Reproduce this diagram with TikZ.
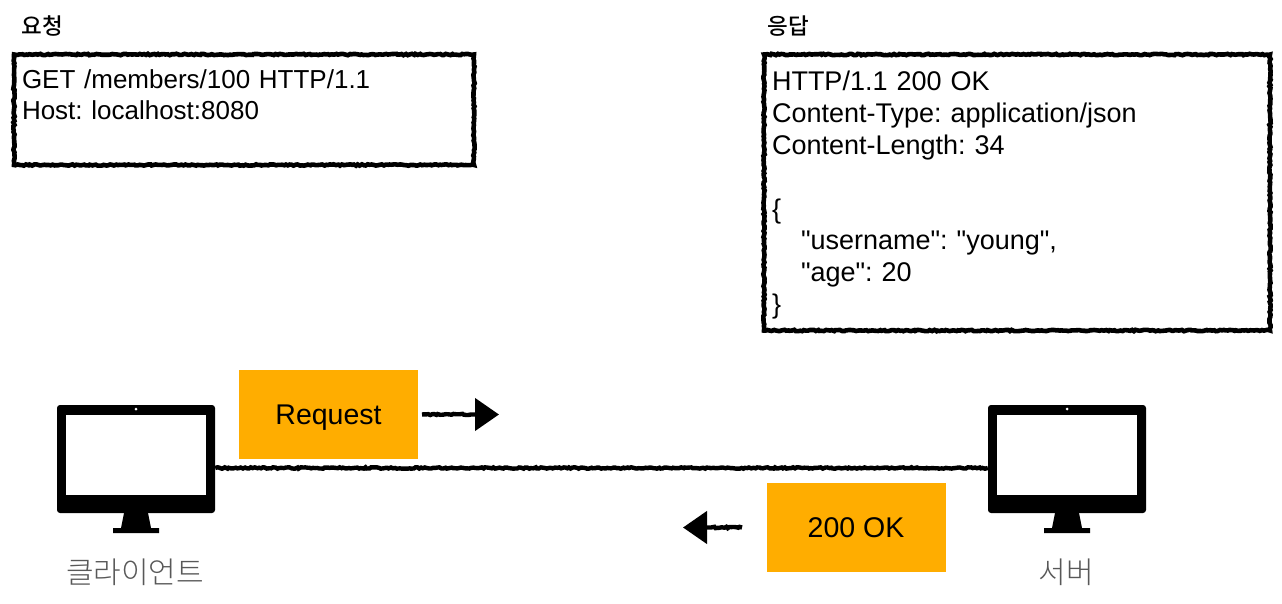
\documentclass[tikz,border=0pt]{standalone}
\usepackage{fontspec}
\setmainfont{Liberation Sans}
\newfontfamily\msgfont{Liberation Sans}
\newfontfamily\krfont{Noto Sans CJK KR Light}
\newfontfamily\krtitle{Noto Sans CJK KR Medium}
\usetikzlibrary{positioning,arrows.meta,decorations.pathmorphing}
\definecolor{boxorange}{HTML}{FFAD00}
\definecolor{labelgray}{HTML}{585858}
\tikzset{
  pics/monitor/.style={code={
    \node[pc body] (-body) at (0,0) {};
    \node[pc screen] (-screen) at (0,-4) {};
    \node[pc dot] (-dot) at (0,-50) {};
    \fill (-12,54) -- (12,54) -- (15,69) -- (23,69) -- (23,74) -- (-23,74) -- (-23,69) -- (-15,69) -- cycle;
  }}
}
\begin{document}
\begin{tikzpicture}[x=1pt,y=-1pt,
    rough/.style={decorate,decoration={random steps,segment length=2pt,amplitude=0.7pt}},
    msg box/.style={rough,draw,line width=4.6pt,outer sep=0pt,anchor=north west,align=left,inner xsep=8pt,inner ysep=0pt},
    tag box/.style={fill=boxorange,minimum width=179pt,minimum height=89pt,inner sep=0pt,text height=20pt,text depth=0pt,font=\msgfont\frenchspacing\fontsize{28.5}{31}\selectfont},
    title/.style={inner sep=0pt,font=\krtitle\fontsize{22.5}{26}\selectfont},
    pc label/.style={inner sep=0pt,text=labelgray,font=\krfont\fontsize{30}{34}\selectfont},
    pc body/.style={fill=black,rounded corners=3pt,minimum width=158pt,minimum height=108pt,inner sep=0pt},
    pc screen/.style={fill=white,minimum width=140pt,minimum height=80pt,inner sep=0pt},
    pc dot/.style={fill=white,circle,minimum size=3pt,inner sep=0pt},
    wire/.style={rough,line width=4.4pt},
    flow/.style={line width=4.4pt,-{Triangle[length=24pt,width=32pt]},decorate,decoration={random steps,segment length=2pt,amplitude=0.7pt,post=lineto,post length=28pt}}]
  \useasboundingbox (0,0) rectangle (1282,604);

  \node[title] (reqtitle) at (42,26) {요청};
  \node[title] (restitle) at (788,26) {응답};

  \node[msg box,text width=444pt,minimum height=110.5pt,font=\msgfont\frenchspacing\fontsize{26}{31}\selectfont] (reqmsg) at (14,54.5) {GET /members/100 HTTP/1.1\\Host: localhost:8080\\~};
  \node[msg box,text width=490pt,minimum height=276pt,font=\msgfont\frenchspacing\fontsize{27}{31.8}\selectfont] (resmsg) at (764,54.5) {\rule{0pt}{25pt}HTTP/1.1 200 OK\\Content-Type: application/json\\Content-Length: 34\\~\\\{\\\hspace*{29pt}"username": "young",\\\hspace*{29pt}"age": 20\\\}};

  \pic (client) at (136,459) {monitor};
  \pic (server) at (1067,459) {monitor};
  \node[pc label] (clientlabel) at (135,572) {클라이언트};
  \node[pc label] (serverlabel) at (1066,572) {서버};

  \node[tag box] (request) at (328.5,414.5) {Request};
  \node[tag box] (okay) at (856,527.5) {200 OK};
  \coordinate (reqtail) at (422,414.5);
  \coordinate (reqtip) at (499,414.5);
  \coordinate (oktail) at (742,527.5);
  \coordinate (oktip) at (683,527.5);

  \draw[wire] ([yshift=-9pt]client-body.east) -- ([yshift=-9pt]server-body.west);
  \draw[flow] (reqtail) -- (reqtip);
  \draw[flow] (oktail) -- (oktip);
\end{tikzpicture}
\end{document}
